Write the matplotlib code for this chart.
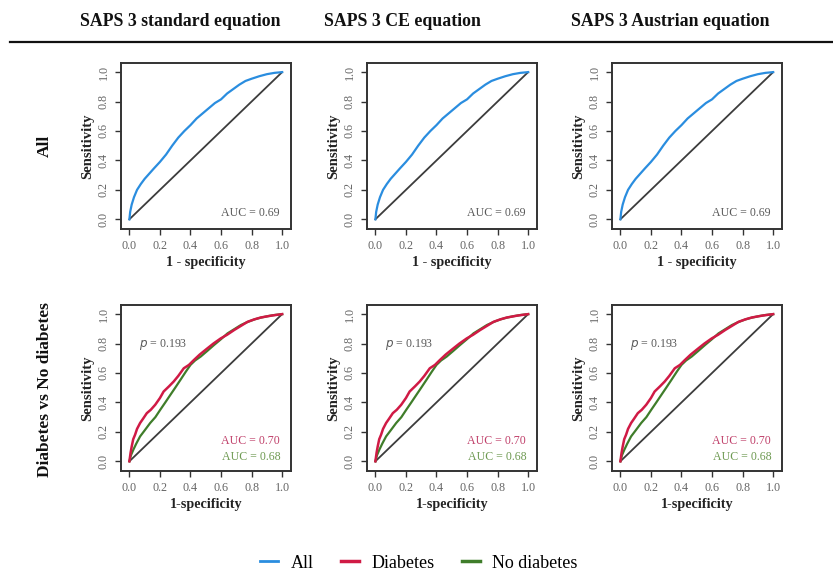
import matplotlib
matplotlib.use('Agg')
import matplotlib.pyplot as plt
from matplotlib.lines import Line2D

plt.rcParams['font.family'] = ['Liberation Serif', 'DejaVu Serif']

# data
equations = ["SAPS 3 standard equation", "SAPS 3 CE equation", "SAPS 3 Austrian equation"]
row_labels = ["All", "Diabetes vs No diabetes"]

fpr_all = [0.0, 0.005, 0.015, 0.03, 0.05, 0.075, 0.10, 0.13, 0.16, 0.20, 0.24, 0.28, 0.32, 0.36,
           0.40, 0.44, 0.48, 0.52, 0.56, 0.60, 0.64, 0.68, 0.72, 0.76, 0.80, 0.85, 0.90, 0.95, 1.0]
tpr_all = [0.0, 0.05, 0.10, 0.15, 0.20, 0.24, 0.275, 0.31, 0.345, 0.39, 0.44, 0.50, 0.555, 0.60,
           0.64, 0.685, 0.72, 0.755, 0.79, 0.815, 0.855, 0.885, 0.915, 0.94, 0.955, 0.972, 0.986, 0.995, 1.0]

fpr_dm = [0, 0.008, 0.015, 0.025, 0.037, 0.05, 0.07, 0.09, 0.114, 0.14, 0.169, 0.20, 0.224, 0.26, 0.29,
          0.32, 0.356, 0.39, 0.422, 0.46, 0.51, 0.55, 0.598, 0.64, 0.686, 0.73, 0.774, 0.82, 0.86, 0.93, 1.0]
tpr_dm = [0, 0.06, 0.10, 0.15, 0.18, 0.22, 0.26, 0.29, 0.327, 0.35, 0.384, 0.43, 0.474, 0.51, 0.542,
          0.58, 0.632, 0.655, 0.688, 0.725, 0.767, 0.80, 0.835, 0.86, 0.892, 0.92, 0.948, 0.965, 0.977, 0.99, 1.0]

fpr_nodm = [0, 0.01, 0.026, 0.045, 0.07, 0.10, 0.136, 0.17, 0.202, 0.235, 0.268, 0.30, 0.334, 0.37, 0.40,
            0.43, 0.466, 0.51, 0.554, 0.60, 0.642, 0.69, 0.73, 0.77, 0.818, 0.86, 0.905, 0.95, 1.0]
tpr_nodm = [0, 0.04, 0.079, 0.12, 0.169, 0.21, 0.26, 0.30, 0.35, 0.40, 0.451, 0.50, 0.553, 0.61, 0.655,
            0.685, 0.711, 0.75, 0.79, 0.83, 0.869, 0.90, 0.926, 0.945, 0.964, 0.976, 0.986, 0.994, 1.0]

auc_all = "0.69"
auc_dm = "0.70"
auc_nodm = "0.68"
p_value = "0.193"

ticks = [0.0, 0.2, 0.4, 0.6, 0.8, 1.0]

c_all = '#2a8ddf'
c_dm = '#d01a45'
c_nodm = '#3f7d2a'
c_diag = '#3c3c3c'
c_text = '#5a5a5a'

W, H = 833, 588
fig = plt.figure(figsize=(W / 100, H / 100), dpi=100)

col_left = [121, 367, 612]
row_top = [63, 305]
box_w, box_h = 170, 166


def setupAxes(ax, xlabel):
    ax.set_xlim(-0.055, 1.058)
    ax.set_ylim(-0.066, 1.062)
    ax.set_xticks(ticks)
    ax.set_yticks(ticks)
    ax.set_xticklabels([f"{t:.1f}" for t in ticks])
    ax.set_yticklabels([f"{t:.1f}" for t in ticks], rotation=90, va='center')
    ax.tick_params(direction='out', length=4, width=1, color='#333333',
                   labelsize=8.7, labelcolor='#666666', pad=4)
    for s in ax.spines.values():
        s.set_linewidth(1.4)
        s.set_color('#333333')
    ax.set_xlabel(xlabel, fontsize=10.2, fontweight='bold', color='#222222')
    ax.set_ylabel("Sensitivity", fontsize=10.5, fontweight='bold', color='#222222')
    ax.xaxis.set_label_coords(0.5, -0.16)
    ax.yaxis.set_label_coords(-0.16, 0.5)
    ax.plot([0, 1], [0, 1], color=c_diag, lw=1.3)


for j in range(3):
    # top row: all patients
    ax = fig.add_axes([col_left[j] / W, 1 - (row_top[0] + box_h) / H, box_w / W, box_h / H])
    setupAxes(ax, "1 - specificity")
    ax.plot(fpr_all, tpr_all, color=c_all, lw=1.6)
    ax.text(0.985, 0.045, f"AUC = {auc_all}", ha='right', va='center', fontsize=8.6, color=c_text)

    # bottom row: diabetes vs no diabetes
    ax = fig.add_axes([col_left[j] / W, 1 - (row_top[1] + box_h) / H, box_w / W, box_h / H])
    setupAxes(ax, "1-specificity")
    ax.plot(fpr_nodm, tpr_nodm, color=c_nodm, lw=1.6)
    ax.plot(fpr_dm, tpr_dm, color=c_dm, lw=1.8)
    ax.text(0.06, 0.795, r"$\it{p}$" + f" = {p_value}", ha='left', va='center', fontsize=8.6, color=c_text)
    ax.text(0.987, 0.14, f"AUC = {auc_dm}", ha='right', va='center', fontsize=8.6, color='#c0406a')
    ax.text(0.987, 0.027, f"AUC = {auc_nodm}", ha='right', va='center', fontsize=8.6, color='#6e9a52')

# column headers and rule
header_x = [180, 402, 670]
for j, name in enumerate(equations):
    fig.text(header_x[j] / W, 1 - 22 / H, name, ha='center', va='center',
             fontsize=12.8, fontweight='bold', color='#111111')
fig.add_artist(Line2D([10 / W, 1.0], [1 - 42 / H, 1 - 42 / H], color='#111111', lw=1.6))

# row labels
fig.text(45 / W, 1 - 146 / H, row_labels[0], rotation=90, ha='center', va='center',
         fontsize=12.5, fontweight='bold', color='#111111')
fig.text(45 / W, 1 - 390 / H, row_labels[1], rotation=90, ha='center', va='center',
         fontsize=12.5, fontweight='bold', color='#111111')

# legend
handles = [Line2D([], [], color=c_all, lw=2),
           Line2D([], [], color=c_dm, lw=2.5),
           Line2D([], [], color=c_nodm, lw=2.5)]
fig.legend(handles, ["All", "Diabetes", "No diabetes"], loc='center', ncol=3,
           bbox_to_anchor=(0.503, 1 - 563 / H), frameon=False, fontsize=13,
           handlelength=1.0, columnspacing=1.5, handletextpad=0.7)

fig.savefig("out.png", dpi=100)
